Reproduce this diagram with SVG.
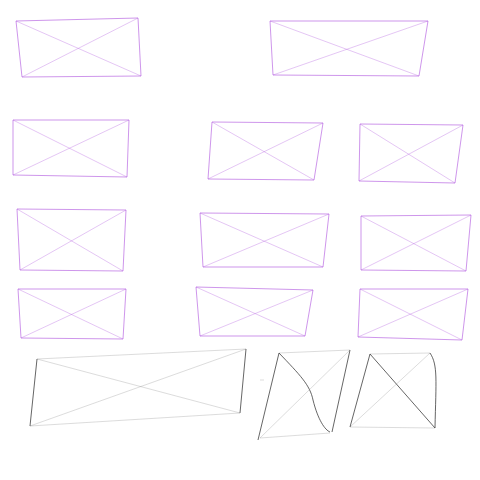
<svg xmlns="http://www.w3.org/2000/svg" width="480" height="480" viewBox="0 0 480 480">
<style>
.p{fill:none;stroke:#b45ee0;stroke-width:1;stroke-opacity:0.65;stroke-linejoin:round}
.pd{fill:none;stroke:#b45ee0;stroke-width:0.8;stroke-opacity:0.45}
.k{fill:none;stroke:#333;stroke-width:1;stroke-opacity:0.75;stroke-linejoin:round}
.kd{fill:none;stroke:#555;stroke-width:0.7;stroke-opacity:0.3}
</style>
<rect width="480" height="480" fill="#fff"/>
<g id="box1"><path class="p" d="M16,21 L138,18 L141,76 L22,77 Z"/><path class="pd" d="M16,21 L141,76 M22,77 L138,18"/></g>
<g id="box2"><path class="p" d="M270,21 L428,21 L419,76 L273,75 Z"/><path class="pd" d="M270,21 L419,76 M273,75 L428,21"/></g>
<g id="box3"><path class="p" d="M13,120 L129,120 L127,177 L13,175 Z"/><path class="pd" d="M13,120 L127,177 M13,175 L129,120"/></g>
<g id="box4"><path class="p" d="M212,122 L323,123 L314,180 L208,179 Z"/><path class="pd" d="M212,122 L314,180 M208,179 L323,123"/></g>
<g id="box5"><path class="p" d="M360,124 L463,125 L455,183 L359,181 Z"/><path class="pd" d="M360,124 L455,183 M359,181 L463,125"/></g>
<g id="box6"><path class="p" d="M17,209 L126,210 L123,271 L20,270 Z"/><path class="pd" d="M17,209 L123,271 M20,270 L126,210"/></g>
<g id="box7"><path class="p" d="M200,213 L329,214 L323,267 L203,267 Z"/><path class="pd" d="M200,213 L323,267 M203,267 L329,214"/></g>
<g id="box8"><path class="p" d="M361,216 L471,215 L466,271 L361,270 Z"/><path class="pd" d="M361,216 L466,271 M361,270 L471,215"/></g>
<g id="box9"><path class="p" d="M18,289 L126,289 L123,339 L21,338 Z"/><path class="pd" d="M18,289 L123,339 M21,338 L126,289"/></g>
<g id="box10"><path class="p" d="M196,287 L313,290 L305,336 L200,336 Z"/><path class="pd" d="M196,287 L305,336 M200,336 L313,290"/></g>
<g id="box11"><path class="p" d="M360,289 L468,289 L462,340 L358,337 Z"/><path class="pd" d="M360,289 L462,340 M358,337 L468,289"/></g>
<g id="box12"><path class="k" d="M37,359 L30,426 M240,413 L246,349"/><path class="kd" d="M30,426 L240,413 M37,359 L246,349 M37,359 L240,413 M30,426 L246,349"/></g>
<g id="box13"><path class="k" d="M279,353 L258,440 M350,350 L332,432 M279,353 C300,375 310,385 313,400 C318,420 325,430 330,432"/><path class="kd" d="M279,353 L350,350 M260,438 L350,350 M260,438 L330,433"/></g>
<g id="box14"><path class="k" d="M370,354 L350,427 M430,353 C438,365 436,380 435,428 M370,354 L435,428"/><path class="kd" d="M370,354 L430,353 M350,427 L435,428 M350,427 L430,353"/></g>
<g id="connectors"><path class="kd" d="M260,380 L264,380"/></g>
</svg>
